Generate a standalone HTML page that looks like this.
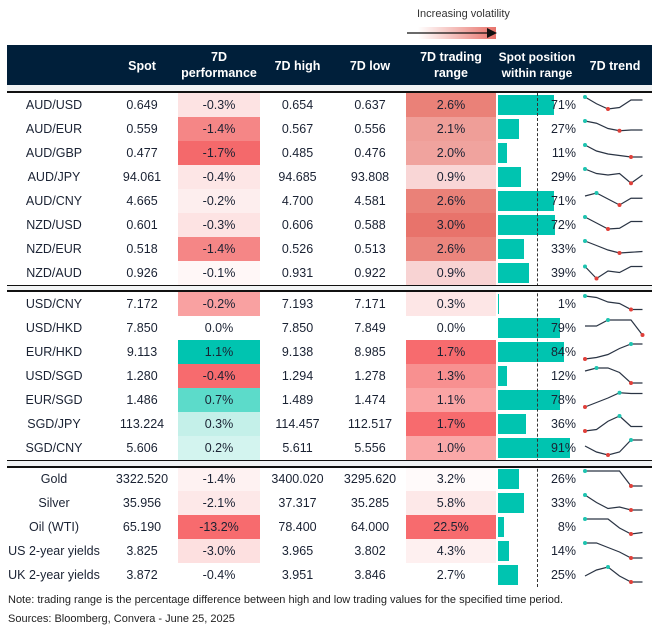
<!DOCTYPE html>
<html><head><meta charset="utf-8"><style>
body{margin:0;width:657px;height:636px;background:#fff;font-family:"Liberation Sans",sans-serif;position:relative;overflow:hidden;color:#1a2233}
.a{position:absolute}
.c{position:absolute;text-align:center;font-size:12.5px;line-height:24px;height:24px}
.h{position:absolute;color:#fff;font-weight:bold;font-size:12.5px;text-align:center;line-height:16px}
</style></head><body>
<div class="a" style="left:417px;top:8px;font-size:11px;color:#333">Increasing volatility</div>
<div class="a" style="left:418px;top:27px;width:78px;height:12px;background:linear-gradient(90deg,#fff,#e8736b)"></div>
<svg class="a" style="left:405px;top:26px" width="95" height="14"><line x1="2" y1="7" x2="84" y2="7" stroke="#111" stroke-width="1.3"/><polygon points="82,2 92,7 82,12" fill="#111"/></svg>
<div class="a" style="left:7px;top:45px;width:645px;height:40px;background:#001f3a"></div>
<div class="a" style="left:7px;top:85px;width:645px;height:6px;background:#f1f3f4"></div>
<div class="h" style="left:100px;top:58px;width:84px">Spot</div>
<div class="h" style="left:178px;top:49px;width:82px">7D<br>performance</div>
<div class="h" style="left:260px;top:58px;width:75px">7D high</div>
<div class="h" style="left:335px;top:58px;width:70px">7D low</div>
<div class="h" style="left:406px;top:49px;width:90px">7D trading<br>range</div>
<div class="h" style="left:497px;top:49px;width:80px;font-size:12px">Spot position<br>within range</div>
<div class="h" style="left:580px;top:58px;width:70px">7D trend</div>
<div id="t"></div>
<div class="a" style="left:8px;top:594px;font-size:11px;color:#222">Note: trading range is the percentage difference between high and low trading values for the specified time period.</div>
<div class="a" style="left:8px;top:613px;font-size:11px;color:#222">Sources: Bloomberg, Convera - June 25, 2025</div>
<script>
var S=[
[93,[
["AUD/USD","0.649","-0.3%","#fde3e3","0.654","0.637","2.6%","#ea8178",71,[0,.45,.8,.7,.2,.2]],
["AUD/EUR","0.559","-1.4%","#f58686","0.567","0.556","2.1%","#ef9e98",27,[0,.15,.5,.65,.6,.6]],
["AUD/GBP","0.477","-1.7%","#f4696b","0.485","0.476","2.0%","#f0a39e",11,[0,.4,.6,.7,.8,.8]],
["AUD/JPY","94.061","-0.4%","#fde6e6","94.685","93.808","0.9%","#f9d6d6",29,[0,.3,.4,.3,.95,.4]],
["AUD/CNY","4.665","-0.2%","#fdeeee","4.700","4.581","2.6%","#ea8178",71,[.2,0,.4,.8,.35,.35]],
["NZD/USD","0.601","-0.3%","#fde3e3","0.606","0.588","3.0%","#e8736b",72,[0,.4,.8,.75,.3,.3]],
["NZD/EUR","0.518","-1.4%","#f58686","0.526","0.513","2.6%","#eb857d",33,[0,.3,.6,.8,.75,.7]],
["NZD/AUD","0.926","-0.1%","#fff7f7","0.931","0.922","0.9%","#f8d3d3",39,[.1,.9,.4,.5,.1,.1]]]],
[292,[
["USD/CNY","7.172","-0.2%","#f9a1a1","7.193","7.171","0.3%","#fde6e6",1,[0,.1,.4,.5,.9,.9]],
["USD/HKD","7.850","0.0%","#ffffff","7.850","7.849","0.0%","#ffffff",79,[.4,.4,0,0,0,1]],
["EUR/HKD","9.113","1.1%","#00c4b0","9.138","8.985","1.7%","#f76b6e",84,[1,.9,.7,.3,0,0]],
["USD/SGD","1.280","-0.4%","#f76b6e","1.294","1.278","1.3%","#f89090",12,[.2,0,0,.3,1,1]],
["EUR/SGD","1.486","1.1%".replace("1.1","0.7"),"#5cdbca","1.489","1.474","1.1%","#faa4a4",78,[1,.7,.4,.05,.1,.1]],
["SGD/JPY","113.224","0.3%","#c4f0e9","114.457","112.517","1.7%","#f76b6e",36,[1,.9,.35,0,.7,.7]],
["SGD/CNY","5.606","0.2%","#d3f4ef","5.611","5.556","1.0%","#faa8a8",91,[.4,.8,1,.8,0,0]]]],
[467,[
["Gold","3322.520","-1.4%","#fef2f2","3400.020","3295.620","3.2%","#fffafa",26,[0,0,0,0,1,1]],
["Silver","35.956","-2.1%","#fde8e8","37.317","35.285","5.8%","#fde8e8",33,[0,.5,.9,.8,1,1]],
["Oil (WTI)","65.190","-13.2%","#f76b6e","78.400","64.000","22.5%","#f76b6e",8,[0,0,0,.6,1,.9]],
["US 2-year yields","3.825","-3.0%","#fde0e0","3.965","3.802","4.3%","#fef0f0",14,[0,0,.3,.6,1,1]],
["UK 2-year yields","3.872","-0.4%","#ffffff","3.951","3.846","2.7%","#ffffff",25,[.6,.2,0,.6,1,1]]]]];
var h="";
S.forEach(function(s,si){var y0=s[0];s[1].forEach(function(r,i){var y=y0+i*24;
h+='<div class="c" style="left:8px;top:'+y+'px;width:92px">'+r[0]+'</div>';
h+='<div class="c" style="left:100px;top:'+y+'px;width:84px">'+r[1]+'</div>';
h+='<div class="c" style="left:178px;top:'+y+'px;width:82px;background:'+r[3]+'">'+r[2]+'</div>';
h+='<div class="c" style="left:260px;top:'+y+'px;width:75px">'+r[4]+'</div>';
h+='<div class="c" style="left:335px;top:'+y+'px;width:70px">'+r[5]+'</div>';
h+='<div class="c" style="left:406px;top:'+y+'px;width:90px;background:'+r[7]+'">'+r[6]+'</div>';
var bw=Math.max(1,r[8]*0.79);
h+='<div class="a" style="left:498px;top:'+(y+2)+'px;width:'+bw+'px;height:20px;background:#00c4b0"></div>';
h+='<div class="c" style="left:520px;top:'+y+'px;width:56px;text-align:right">'+r[8]+'%</div>';
var p=r[9],pts=[],mx=0,mn=0;p.forEach(function(v,k){pts.push((585+k*11.5)+','+(y+4+v*15));if(v<p[mx])mx=k;if(v>p[mn])mn=k;});
h+='<svg class="a" style="left:0;top:0;overflow:visible" width="1" height="1"><polyline points="'+pts.join(' ')+'" fill="none" stroke="#2a3444" stroke-width="1.2"/>';
h+='<circle cx="'+(585+mx*11.5)+'" cy="'+(y+4+p[mx]*15)+'" r="2" fill="#1ec4b0"/><circle cx="'+(585+mn*11.5)+'" cy="'+(y+4+p[mn]*15)+'" r="2" fill="#e0403a"/></svg>';
});});
h+='<div class="a" style="left:537px;top:93px;height:494px;border-left:1px dashed #333"></div>';
[[91,1.5],[285,1.5],[286,4,'#f1f3f4'],[290,1.5],[460,1.5],[461,5,'#f1f3f4'],[466,1.5]].forEach(function(l){
h+='<div class="a" style="left:7px;top:'+l[0]+'px;width:645px;height:'+l[1]+'px;background:'+(l[2]||'#111')+'"></div>';});
document.getElementById('t').innerHTML=h;
</script>
</body></html>
